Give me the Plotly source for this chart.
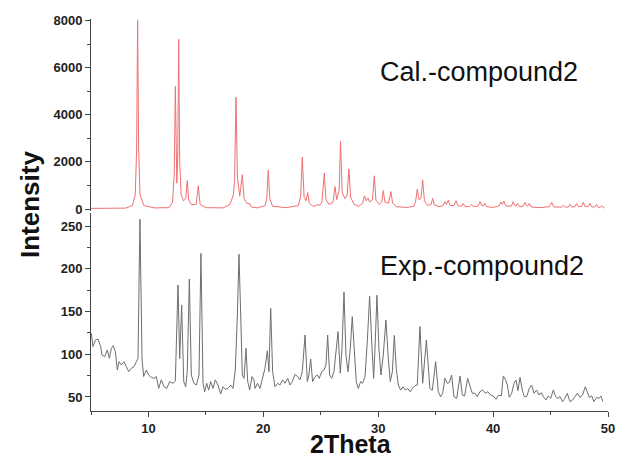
import plotly.graph_objects as go

# Calculated pattern (2Theta, intensity) vertices
cal_2theta = [5.0, 8.0, 8.6, 8.85, 8.97, 9.06, 9.15, 9.27, 9.6, 10.5,
              11.8, 12.1, 12.25, 12.34, 12.47, 12.55, 12.63, 12.72, 12.85, 13.05,
              13.25, 13.38, 13.5, 13.75, 14.15, 14.34, 14.5, 15.0, 16.5, 17.1,
              17.39, 17.5, 17.62, 17.75, 17.95, 18.17, 18.32, 18.55, 18.81, 18.95,
              19.5, 20.15, 20.3, 20.43, 20.56, 20.8, 22.0, 23.05, 23.25, 23.39,
              23.55, 23.72, 23.86, 24.0, 24.3, 24.6, 24.75, 24.9, 25.1, 25.31,
              25.45, 25.7, 26.05, 26.24, 26.38, 26.6, 26.72, 26.86, 27.1, 27.3,
              27.45, 27.6, 27.9, 28.3, 28.65, 28.8, 28.95, 29.1, 29.25, 29.5,
              29.66, 29.8, 30.1, 30.3, 30.44, 30.58, 30.9, 31.11, 31.25, 31.6,
              32.5, 33.1, 33.25, 33.4, 33.55, 33.72, 33.87, 34.02, 34.3, 34.6,
              34.74, 34.88, 35.3, 35.65, 35.81, 35.95, 36.1, 36.25, 36.6, 36.77,
              36.92, 37.25, 37.4, 37.55, 37.95, 38.13, 38.3, 38.7, 38.86, 39.0,
              39.15, 39.29, 39.45, 40.0, 40.5, 40.68, 40.8, 40.94, 41.1, 41.6,
              41.75, 41.9, 42.0, 42.13, 42.3, 42.6, 42.77, 42.9, 43.0, 43.15,
              43.3, 44.0, 44.9, 45.1, 45.3, 45.95, 46.11, 46.3, 46.55, 46.69,
              46.85, 47.12, 47.27, 47.42, 47.7, 47.85, 48.0, 48.28, 48.43, 48.58,
              48.85, 49.0, 49.15, 49.3, 49.45, 49.6, 49.7]
cal_intensity = [30, 40, 150, 600, 2500, 8000, 2500, 600, 150, 50,
                 60, 300, 1500, 5200, 1100, 2200, 7200, 2000, 600, 350,
                 450, 1210, 400, 180, 200, 985, 200, 60, 50, 200,
                 600, 1200, 4740, 1300, 550, 1455, 450, 250, 230, 90,
                 50, 150, 450, 1650, 450, 120, 60, 150, 550, 2210,
                 500, 350, 700, 250, 120, 150, 200, 150, 300, 1530,
                 400, 200, 280, 955, 400, 800, 2880, 700, 450, 600,
                 1700, 500, 200, 120, 250, 560, 350, 470, 300, 400,
                 1410, 380, 200, 300, 785, 300, 250, 740, 250, 100,
                 70, 120, 300, 840, 400, 450, 1240, 350, 150, 200,
                 455, 180, 100, 150, 315, 200, 385, 150, 150, 355,
                 150, 120, 240, 110, 100, 200, 100, 130, 315, 150,
                 130, 240, 100, 70, 130, 300, 200, 340, 130, 130,
                 315, 150, 130, 240, 100, 120, 285, 150, 130, 240,
                 90, 60, 100, 285, 90, 80, 155, 80, 90, 200,
                 90, 100, 240, 100, 110, 285, 110, 100, 240, 90,
                 90, 200, 80, 70, 130, 50, 40]

exp_2theta = [5.03, 5.17, 5.38, 5.61, 5.84, 5.96, 6.19, 6.42, 6.60, 6.77,
              6.94, 7.12, 7.29, 7.44, 7.64, 7.87, 8.08, 8.28, 8.51, 8.74,
              8.95, 9.09, 9.26, 9.44, 9.58, 9.82, 10.02, 10.25, 10.48, 10.69,
              10.89, 11.12, 11.35, 11.59, 11.85, 12.14, 12.34, 12.57, 12.72, 12.89,
              13.07, 13.24, 13.38, 13.56, 13.73, 13.96, 14.17, 14.40, 14.57, 14.75,
              14.89, 15.07, 15.24, 15.41, 15.62, 15.82, 16.05, 16.29, 16.49, 16.69,
              16.92, 17.16, 17.36, 17.56, 17.74, 17.88, 18.03, 18.17, 18.32, 18.49,
              18.64, 18.81, 19.01, 19.19, 19.27, 19.50, 19.71, 19.91, 20.14, 20.35,
              20.49, 20.64, 20.81, 21.01, 21.25, 21.45, 21.68, 21.88, 22.12, 22.32,
              22.52, 22.75, 22.99, 23.19, 23.39, 23.63, 23.83, 23.97, 24.12, 24.29,
              24.50, 24.70, 24.87, 25.08, 25.28, 25.45, 25.60, 25.77, 25.95, 26.15,
              26.32, 26.50, 26.70, 26.85, 27.02, 27.19, 27.37, 27.57, 27.74, 27.92,
              28.09, 28.27, 28.47, 28.64, 28.85, 29.05, 29.25, 29.46, 29.60, 29.72,
              29.89, 30.06, 30.24, 30.44, 30.67, 30.88, 31.05, 31.23, 31.40, 31.57,
              31.75, 31.95, 32.15, 32.36, 32.56, 32.79, 32.97, 33.20, 33.40, 33.63,
              33.87, 34.19, 34.50, 34.71, 35.00, 35.23, 35.43, 35.61, 35.81, 36.01,
              36.19, 36.39, 36.59, 36.83, 37.12, 37.32, 37.52, 37.78, 37.99, 38.19,
              38.42, 38.62, 38.86, 39.09, 39.32, 39.55, 39.78, 40.02, 40.25, 40.48,
              40.71, 40.89, 41.06, 41.24, 41.41, 41.61, 41.82, 41.99, 42.16, 42.34,
              42.54, 42.71, 42.92, 43.15, 43.35, 43.56, 43.79, 43.99, 44.19, 44.37,
              44.60, 44.80, 45.01, 45.24, 45.44, 45.64, 45.82, 46.05, 46.25, 46.46,
              46.69, 46.92, 47.12, 47.33, 47.56, 47.79, 48.02, 48.20, 48.37, 48.58,
              48.78, 49.01, 49.21, 49.39, 49.55]
exp_intensity = [124.5, 109, 116.7, 117.8, 108.9, 99.1, 97.2, 105, 95.2, 107,
                 110, 103, 81.6, 91.3, 87.4, 91.3, 85.5, 79.6, 83.5, 85.5,
                 91.3, 95.2, 258, 95, 74, 81.6, 75.7, 73, 71.8, 73.8,
                 60, 70, 62, 60, 68, 66, 68.7, 181, 95, 157.6,
                 68, 62, 79.6, 188, 75.7, 66, 64, 75.7, 218, 66,
                 56, 66, 58, 68, 60, 70, 64, 53.5, 62, 59,
                 60, 64, 60, 81.6, 146, 217, 146, 75.7, 71.8, 107,
                 68, 58, 73.8, 70, 60, 66, 60, 70, 83.5, 104,
                 79.6, 153.7, 79.6, 62, 66, 64, 70, 66, 71.8, 64,
                 68, 76.5, 73.8, 70, 79.6, 122.5, 68, 75.7, 94.4, 68,
                 73.8, 75.7, 71.8, 79.6, 81.6, 87.4, 122.5, 75.7, 71.8, 79.6,
                 99, 126.4, 77.7, 107, 173, 99, 79.6, 107, 144, 99,
                 68, 60, 68, 66, 73.8, 115, 168, 107, 71.8, 107,
                 169, 107, 75.7, 99, 140, 95, 68, 79.6, 122, 83.5,
                 64, 58, 62, 58, 60, 56, 60, 63.3, 64, 132.5,
                 66, 116.7, 60, 58, 91.3, 56.2, 50.4, 54.3, 71.8, 66,
                 66.8, 75.7, 50.4, 48.4, 74.6, 52.3, 51.2, 71.8, 64, 54.3,
                 54.3, 50.4, 56.2, 58.2, 54.3, 56.2, 52.3, 51.2, 47.3, 52.3,
                 51.2, 74.6, 70.7, 64, 49.6, 54.3, 66, 69.9, 57.4, 73,
                 58.2, 50.4, 50.4, 60.2, 64, 54.3, 58.2, 52.3, 55.1, 50.4,
                 46.5, 51.2, 48.4, 58.2, 50.4, 48.4, 50.4, 44.5, 48.4, 54.3,
                 44.5, 46.5, 50.4, 54.3, 49.6, 52.3, 62, 54.3, 49.6, 51.2,
                 44.5, 49.6, 48.4, 51.2, 44.5]

x_ticks = [10, 20, 30, 40, 50]
top_y_ticks = [0, 2000, 4000, 6000, 8000]
bottom_y_ticks = [50, 100, 150, 200, 250]

FONT = "Liberation Sans, Arial, sans-serif"
AXIS_COL = "#444444"
TICKFONT = dict(family=FONT, size=13, color="#222222", weight="bold")

fig = go.Figure()
fig.add_trace(go.Scatter(x=cal_2theta, y=cal_intensity, mode="lines",
                         line=dict(color="rgb(240,112,112)", width=1),
                         xaxis="x2", yaxis="y2", showlegend=False))
fig.add_trace(go.Scatter(x=exp_2theta, y=exp_intensity, mode="lines",
                         line=dict(color="rgb(110,110,110)", width=1),
                         xaxis="x", yaxis="y", showlegend=False))

fig.update_layout(
    width=618, height=459,
    margin=dict(l=91, r=10, t=19, b=48, autoexpand=False),
    paper_bgcolor="white", plot_bgcolor="white",
    xaxis=dict(domain=[0, 1], anchor="y", range=[5, 50], automargin=False,
               tickvals=x_ticks, ticks="outside", ticklen=5, tickwidth=1,
               tickcolor=AXIS_COL, showline=True, linecolor=AXIS_COL, linewidth=1,
               showgrid=False, zeroline=False, tickfont=TICKFONT,
               minor=dict(dtick=5, tick0=5, ticks="outside", ticklen=3,
                          tickcolor=AXIS_COL, showgrid=False)),
    xaxis2=dict(domain=[0, 1], anchor="y2", range=[5, 50], matches="x",
                visible=False),
    yaxis=dict(domain=[0, 0.505], anchor="x", range=[33.6, 265.2], automargin=False,
               tickvals=bottom_y_ticks, ticks="outside", ticklen=5, tickwidth=1,
               tickcolor=AXIS_COL, showline=True, linecolor=AXIS_COL, linewidth=1,
               showgrid=False, zeroline=False, tickfont=TICKFONT,
               minor=dict(dtick=25, tick0=25, ticks="outside", ticklen=3,
                          tickcolor=AXIS_COL, showgrid=False)),
    yaxis2=dict(domain=[0.51, 1], anchor="x2", range=[-85, 8060], automargin=False,
                tickvals=top_y_ticks, ticks="outside", ticklen=5, tickwidth=1,
                tickcolor=AXIS_COL, showline=True, linecolor=AXIS_COL, linewidth=1,
                showgrid=False, zeroline=False, tickfont=TICKFONT,
                minor=dict(dtick=1000, tick0=0, ticks="outside", ticklen=3,
                           tickcolor=AXIS_COL, showgrid=False)),
    annotations=[
        dict(text="Cal.-compound2", xref="paper", yref="paper", x=0.750, y=0.865,
             xanchor="center", yanchor="middle", showarrow=False,
             font=dict(family=FONT, size=27, color="#111111")),
        dict(text="Exp.-compound2", xref="paper", yref="paper", x=0.757, y=0.370,
             xanchor="center", yanchor="middle", showarrow=False,
             font=dict(family=FONT, size=27, color="#111111")),
        dict(text="Intensity", xref="paper", yref="paper", x=-0.118, y=0.528,
             xanchor="center", yanchor="middle", showarrow=False, textangle=-90,
             font=dict(family=FONT, size=26, color="#111111", weight="bold")),
        dict(text="2Theta", xref="paper", yref="paper", x=0.503, y=-0.085,
             xanchor="center", yanchor="middle", showarrow=False,
             font=dict(family=FONT, size=25, color="#111111", weight="bold")),
    ],
)

# Remove the default page margin so the 618x459 figure fills the window exactly.
fig.write_html("out.html",
               config={"displayModeBar": False},
               post_script="document.body.style.margin='0';"
                           "document.body.style.overflow='hidden';")
